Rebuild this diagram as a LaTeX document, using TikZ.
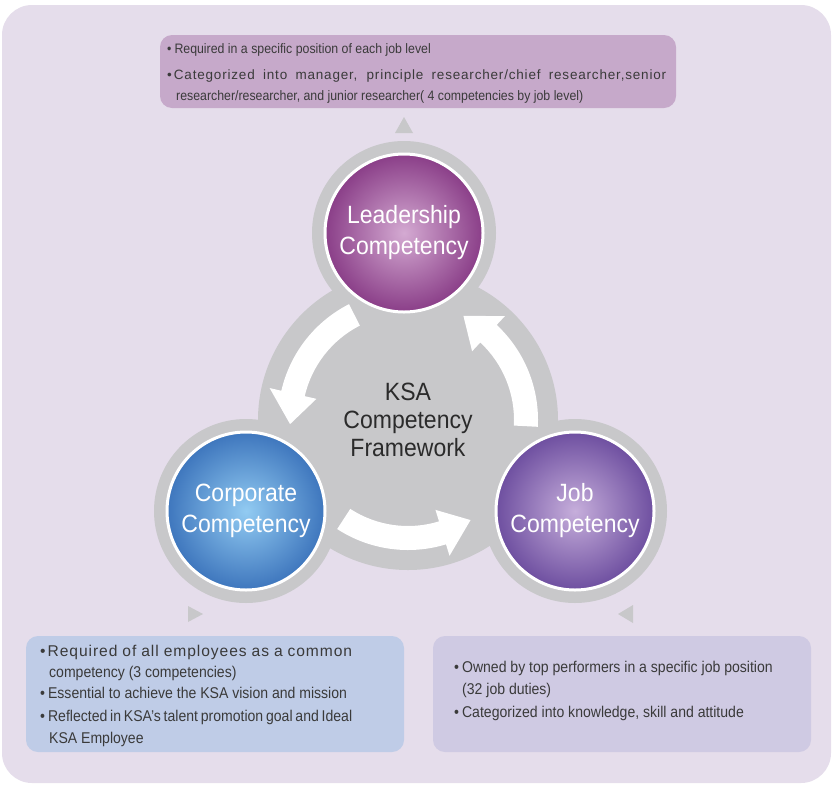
\documentclass[tikz,border=0pt]{standalone}
\usepackage{fontspec}
\setmainfont{Liberation Sans}
\newfontfamily\boxfont{Liberation Sans}[FakeStretch=0.9]
\newfontfamily\widefont{Liberation Sans}[LetterSpace=6]
\newfontfamily\circfont{Liberation Sans}[FakeStretch=0.92]
\definecolor{bgc}{HTML}{E5DDEB}
\definecolor{topc}{HTML}{C6A9CA}
\definecolor{blc}{HTML}{BFCCE7}
\definecolor{brc}{HTML}{CFCAE3}
\definecolor{ringc}{HTML}{C8C8CA}
\definecolor{txtc}{HTML}{3A3A3A}
\definecolor{coretxt}{HTML}{2B2B2B}
\definecolor{leadin}{HTML}{D4AAD2}
\definecolor{leadout}{HTML}{8A3E88}
\definecolor{corpin}{HTML}{92CBF2}
\definecolor{corpout}{HTML}{3E76BD}
\definecolor{jobin}{HTML}{C6AEDB}
\definecolor{jobout}{HTML}{6E4FA0}
\newcommand\ksaarrow[2]{%
  \fill[white] ({-#1}:130) arc[start angle={-#1}, end angle={-#2+15}, radius=130]
    -- ({-#2+15}:142) -- ({-#2}:118) -- ({-#2+15}:94) -- ({-#2+15}:106)
    arc[start angle={-#2+15}, end angle={-#1}, radius=106] -- cycle;}
\begin{document}
\begin{tikzpicture}[x=1pt,y=-1pt,
  boxstyle/.style={rounded corners=12pt, inner sep=0pt},
  linetxt/.style={anchor=base west, inner sep=0pt, text=txtc},
  smalltxt/.style={linetxt, font=\boxfont\fontsize{13.7}{16}\selectfont},
  widesmall/.style={linetxt, font=\widefont\fontsize{13.5}{16}\selectfont},
  bigtxt/.style={linetxt, font=\boxfont\fontsize{15.6}{18}\selectfont},
  widebig/.style={linetxt, font=\widefont\fontsize{15.6}{18}\selectfont},
  compcircle/.style={circle, draw=white, line width=3pt, minimum size=158pt,
    inner sep=0pt, text=white, align=center,
    font=\circfont\fontsize{25}{31}\selectfont},
  pointer/.style={fill=ringc}
]
\useasboundingbox (0,0) rectangle (832,785);
\fill[bgc, rounded corners=30pt] (2,5) rectangle (831,783);

% text boxes
\node[boxstyle, fill=topc, minimum width=516pt, minimum height=73pt] (topbox) at (418,71.5) {};
\node[boxstyle, fill=blc, minimum width=378pt, minimum height=116pt] (blbox) at (215,694) {};
\node[boxstyle, fill=brc, minimum width=378pt, minimum height=116pt] (brbox) at (622,694) {};

\node[smalltxt] (t1) at (167,53) {•\hspace{3pt}Required in a specific position of each job level};
\node[widesmall] (t2) at (167,79) {\makebox[499pt][s]{•\hspace{2pt}Categorized into manager, principle researcher/chief researcher,senior}};
\node[smalltxt] (t3) at (176,100) {researcher/researcher, and junior researcher( 4 competencies by job level)};

\node[widebig] (b1) at (40,656) {\makebox[312pt][s]{•\hspace{2pt}Required of all employees as a common}};
\node[bigtxt] (b2) at (49,677) {competency (3 competencies)};
\node[bigtxt] (b3) at (40,698) {•\hspace{3pt}Essential to achieve the KSA vision and mission};
\node[bigtxt] (b4) at (40,721) {\makebox[312pt][s]{•\hspace{3pt}Reflected in KSA’s talent promotion goal and Ideal}};
\node[bigtxt] (b5) at (49,743) {KSA Employee};

\node[bigtxt] (r1) at (454,672) {•\hspace{3pt}Owned by top performers in a specific job position};
\node[bigtxt] (r2) at (462,694) {(32 job duties)};
\node[bigtxt] (r3) at (454,717) {•\hspace{3pt}Categorized into knowledge, skill and attitude};

% pointers
\fill[pointer] (395,133) -- (404,117) -- (413,133) -- cycle;
\fill[pointer] (188,606) -- (203,614) -- (188,622) -- cycle;
\fill[pointer] (633,605) -- (618,614) -- (633,623) -- cycle;

% cycle
\coordinate (leadc) at (404,233);
\coordinate (corpc) at (246,511);
\coordinate (jobc) at (575,511);
\node[circle, fill=ringc, minimum size=300pt, inner sep=0pt, text=coretxt, align=center,
  font=\circfont\fontsize{25}{28}\selectfont] (core) at (408,420) {KSA\\Competency\\Framework};
\fill[ringc] (leadc) circle[radius=92];
\fill[ringc] (corpc) circle[radius=92];
\fill[ringc] (jobc) circle[radius=92];

\begin{scope}[shift={(core.center)}]
  \ksaarrow{117}{182}
  \ksaarrow{237}{302}
  \ksaarrow{357}{422}
\end{scope}

\node[compcircle, inner color=leadin, outer color=leadout] (lead) at (leadc) {Leadership\\Competency};
\node[compcircle, inner color=corpin, outer color=corpout] (corp) at (corpc) {Corporate\\Competency};
\node[compcircle, inner color=jobin, outer color=jobout] (job) at (jobc) {Job\\Competency};
\end{tikzpicture}
\end{document}
